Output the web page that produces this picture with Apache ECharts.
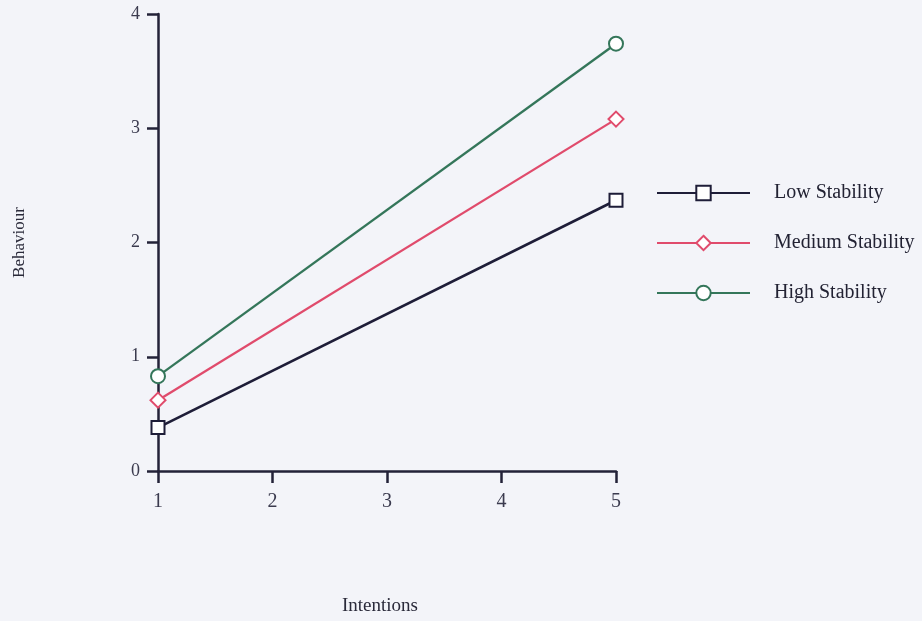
<!DOCTYPE html>
<html><head><meta charset="utf-8">
<script src="https://cdn.jsdelivr.net/npm/echarts@6/dist/echarts.min.js"></script>
<style>html,body{margin:0;padding:0;background:#f3f4f9;}#c{width:922px;height:621px;}</style>
</head><body><div id="c"></div>
<script>
const intentions = [1, 5];
const lowStability = [0.38, 2.37];
const mediumStability = [0.62, 3.08];
const highStability = [0.83, 3.74];
const seriesNames = ['Low Stability', 'Medium Stability', 'High Stability'];
const xTicks = [1, 2, 3, 4, 5];
const yTicks = [0, 1, 2, 3, 4];

const pairs = arr => intentions.map((x, i) => [x, arr[i]]);
const font = '"Liberation Serif", "DejaVu Serif", serif';
const axisCol = '#232238';

const chart = echarts.init(document.getElementById('c'));
chart.setOption({
  backgroundColor: '#f3f4f9',
  animation: false,
  grid: {left: 158, right: 306, top: 14, bottom: 150, outerBoundsMode: 'none', containLabel: false},
  xAxis: {
    type: 'value', min: xTicks[0], max: xTicks[xTicks.length-1], interval: 1,
    name: 'Intentions', nameLocation: 'middle', nameGap: 126,
    nameTextStyle: {fontFamily: font, fontSize: 19, color: '#2a2a3a', padding: [0, 14, 0, 0]},
    splitLine: {show: false},
    axisLine: {lineStyle: {color: axisCol, width: 2.5}},
    axisTick: {length: 12, lineStyle: {color: axisCol, width: 2.5}},
    axisLabel: {fontFamily: font, fontSize: 20, color: '#3a3a4e', margin: 21}
  },
  yAxis: {
    type: 'value', min: yTicks[0], max: yTicks[yTicks.length-1], interval: 1,
    name: 'Behaviour', nameLocation: 'middle', nameGap: 130,
    nameTextStyle: {fontFamily: font, fontSize: 17, color: '#2a2a3a'},
    splitLine: {show: false},
    axisLine: {show: true, lineStyle: {color: axisCol, width: 2.5}},
    axisTick: {show: true, length: 11, lineStyle: {color: axisCol, width: 2.5}},
    axisLabel: {fontFamily: font, fontSize: 18, color: '#3a3a4e', margin: 18}
  },
  legend: {
    orient: 'vertical', left: 656, top: 183, padding: 0,
    itemWidth: 93, itemHeight: 18, itemGap: 30,
    textStyle: {fontFamily: font, fontSize: 20, color: '#222233', padding: [0,0,0,19]},
    data: seriesNames
  },
  series: [
    {name: seriesNames[0], type: 'line', data: pairs(lowStability), symbol: 'emptyRect', symbolSize: 13,
     lineStyle: {color: '#1e1d38', width: 2.6}, itemStyle: {color: '#1e1d38', borderWidth: 2.3}},
    {name: seriesNames[1], type: 'line', data: pairs(mediumStability), symbol: 'emptyDiamond', symbolSize: 15,
     lineStyle: {color: '#e04b6c', width: 2.3}, itemStyle: {color: '#e04b6c', borderWidth: 2.3}},
    {name: seriesNames[2], type: 'line', data: pairs(highStability), symbol: 'emptyCircle', symbolSize: 14,
     lineStyle: {color: '#34765a', width: 2.3}, itemStyle: {color: '#34765a', borderWidth: 2.3}}
  ]
});
</script></body></html>
